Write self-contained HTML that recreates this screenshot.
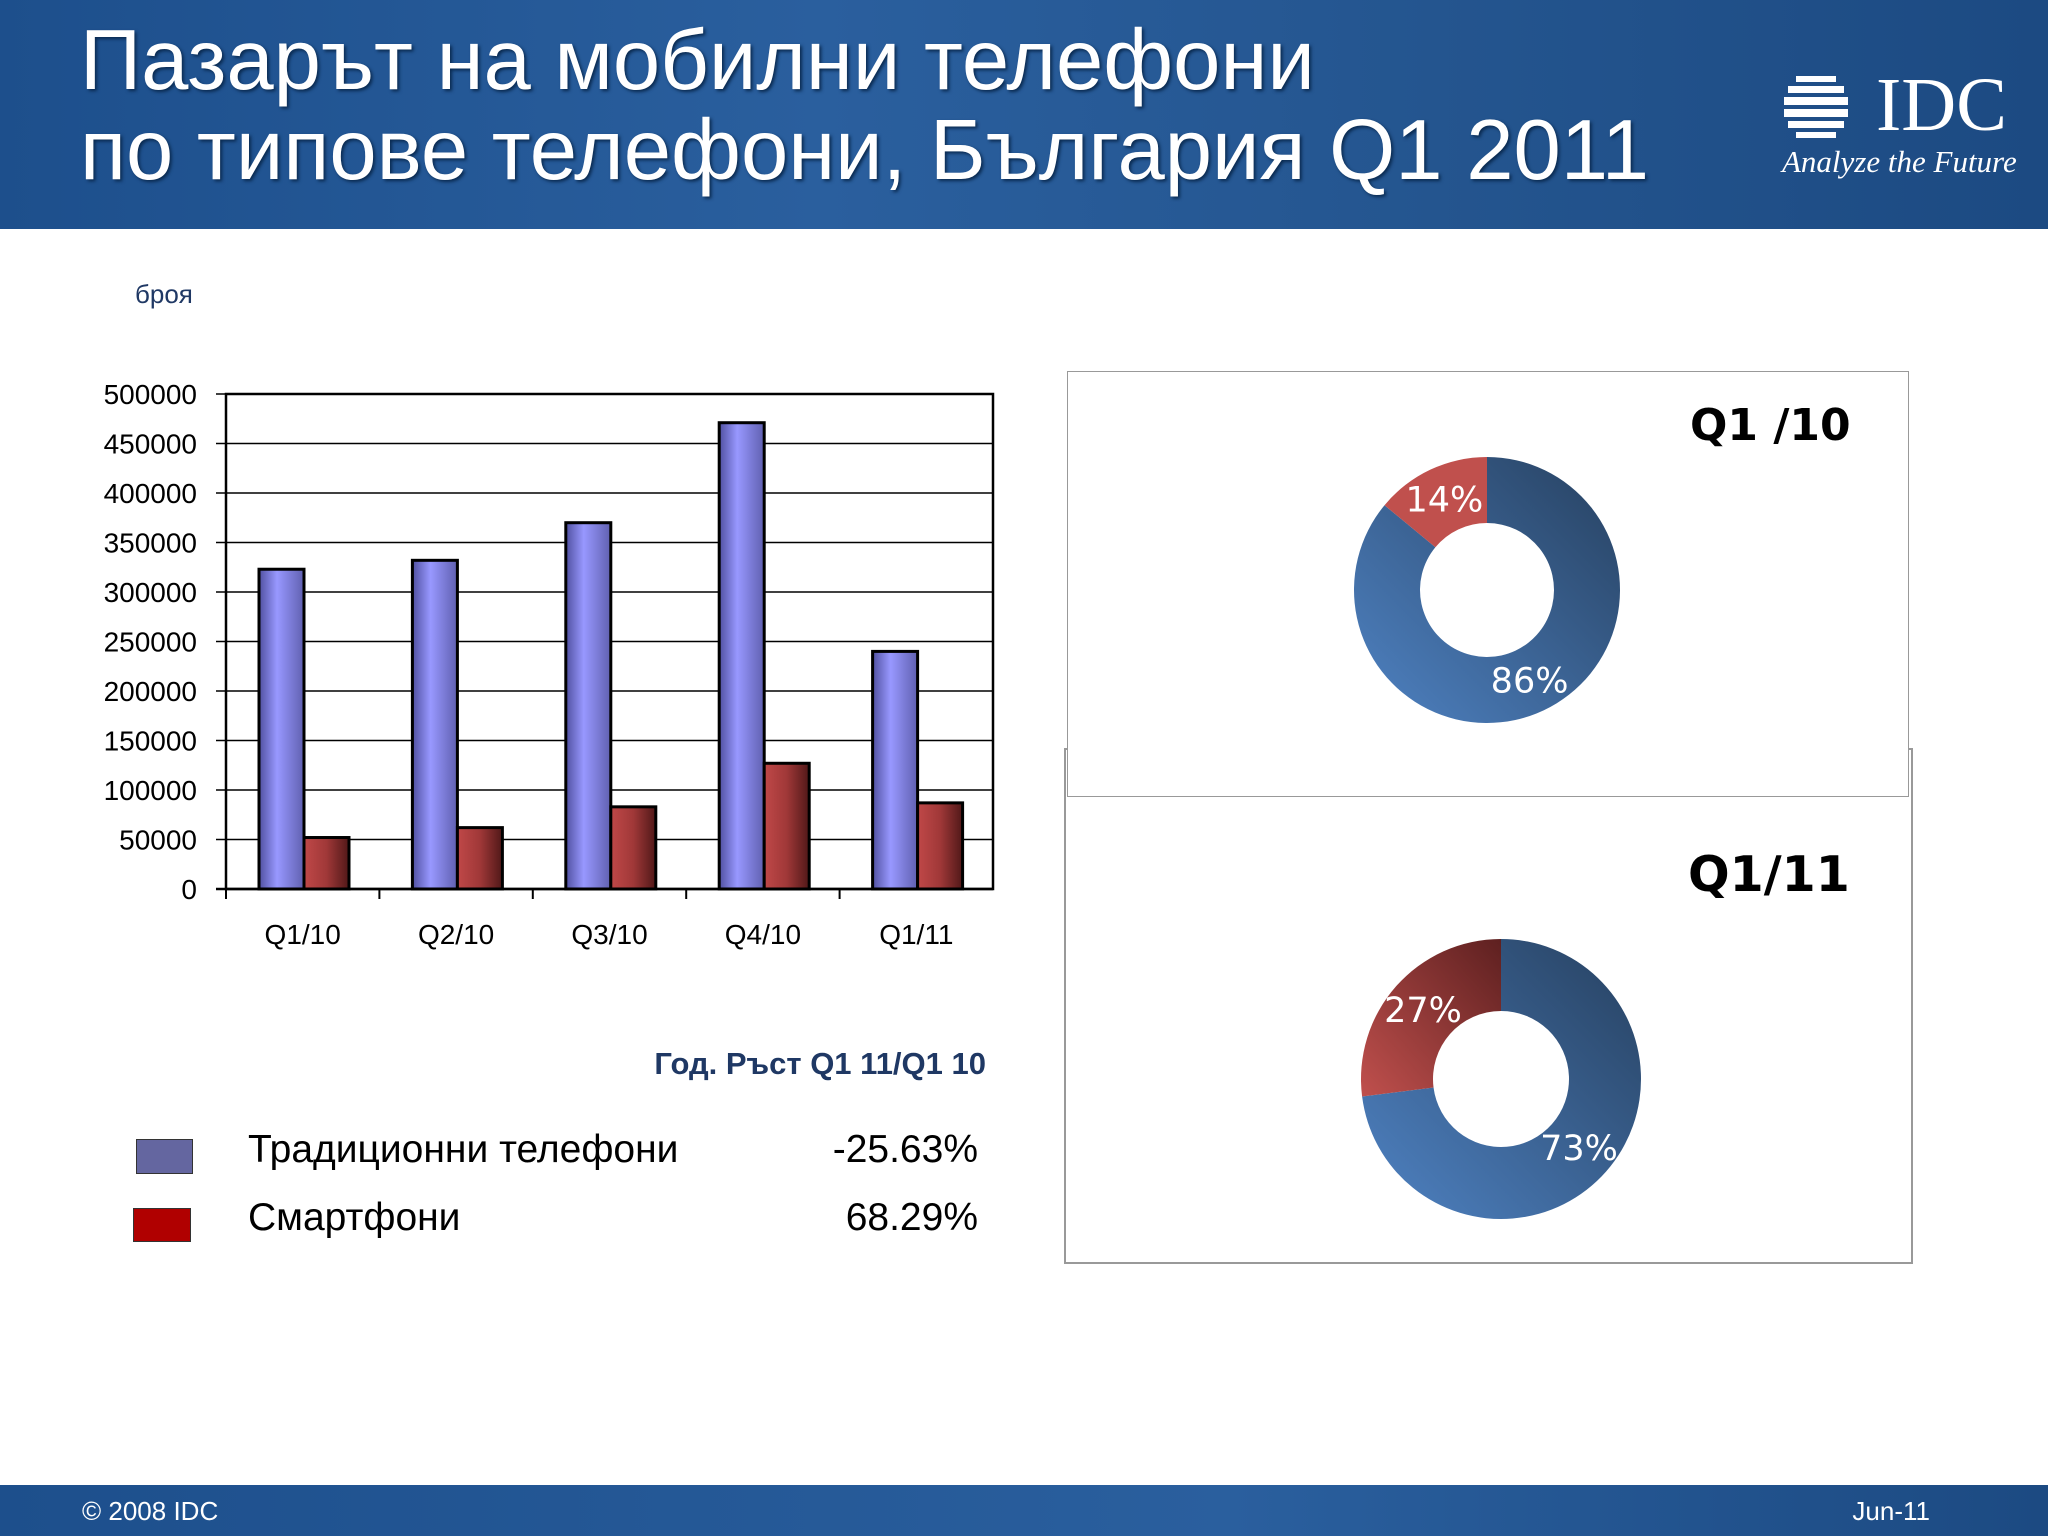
<!DOCTYPE html>
<html><head><meta charset="utf-8"><style>
body{margin:0;width:2048px;height:1536px;background:#fff;position:relative;overflow:hidden;font-family:"Liberation Sans",sans-serif}
.abs{position:absolute}
</style></head><body>
<div class="abs" style="left:0;top:0;width:2048px;height:229px;background:linear-gradient(90deg,#1d4f8c 0%,#2a5f9e 40%,#24558f 70%,#1c4a82 100%)"></div>
<div class="abs" style="left:80px;top:16px;color:#fff;font-size:85px;line-height:90px;text-shadow:2px 2px 3px #0a2a50;white-space:nowrap">Пазарът на мобилни телефони<br>по типове телефони, България Q1 2011</div>
<div class="abs" style="left:1782px;top:66px;width:230px;color:#fff">
 <svg width="90" height="70" style="position:absolute;left:0;top:8px"><g fill="#fff"><rect x="14" y="2" width="40" height="6"/><rect x="6" y="12" width="56" height="7"/><rect x="2" y="23" width="64" height="8"/><rect x="2" y="35" width="64" height="8"/><rect x="6" y="47" width="56" height="7"/><rect x="14" y="58" width="40" height="6"/></g></svg>
 <div style="position:absolute;left:94px;top:0;font-family:'Liberation Serif',serif;font-size:76px;line-height:78px">IDC</div>
 <div style="position:absolute;left:0;top:78px;font-family:'Liberation Serif',serif;font-style:italic;font-size:31px;white-space:nowrap">Analyze the Future</div>
</div>
<div class="abs" style="left:135px;top:279px;font-size:26px;color:#1f3864">броя</div>

<svg class="abs" style="left:0;top:0" width="2048" height="1536" id="chart">
<defs>
<linearGradient id="gb" x1="0" x2="1"><stop offset="0" stop-color="#5050a0"/><stop offset="0.4" stop-color="#9898ff"/><stop offset="1" stop-color="#6060b0"/></linearGradient>
<linearGradient id="gr" x1="0" x2="1"><stop offset="0" stop-color="#c04848"/><stop offset="0.5" stop-color="#a03838"/><stop offset="1" stop-color="#501818"/></linearGradient>
</defs>
<g id="bars"></g>
</svg>

<div class="abs" style="left:500px;top:1046px;width:486px;text-align:right;font-size:31px;font-weight:bold;color:#1f3864">Год. Ръст Q1 11/Q1 10</div>
<div class="abs" style="left:136px;top:1139px;width:55px;height:33px;background:#6466a0;border:1px solid #333"></div>
<div class="abs" style="left:133px;top:1208px;width:56px;height:32px;background:#b00000;border:1px solid #333"></div>
<div class="abs" style="left:248px;top:1128px;font-size:39px">Традиционни телефони</div>
<div class="abs" style="left:248px;top:1196px;font-size:39px">Смартфони</div>
<div class="abs" style="left:700px;top:1128px;width:278px;text-align:right;font-size:39px">-25.63%</div>
<div class="abs" style="left:700px;top:1196px;width:278px;text-align:right;font-size:39px">68.29%</div>

<div class="abs" style="left:1064px;top:748px;width:845px;height:512px;border:2px solid #999;background:#fff"></div>
<div class="abs" style="left:1067px;top:371px;width:840px;height:424px;border:1px solid #999;background:#fff"></div>
<div class="abs" style="left:1690px;top:400px;font-size:44px;font-weight:bold;font-family:'DejaVu Sans',sans-serif">Q1 /10</div>
<div class="abs" style="left:1688px;top:846px;font-size:49px;font-weight:bold;font-family:'DejaVu Sans',sans-serif">Q1/11</div>
<svg class="abs" style="left:0;top:0" width="2048" height="1536" id="donuts">
<defs>
<linearGradient id="dblue" x1="0" y1="1" x2="1" y2="0"><stop offset="0" stop-color="#4f83c4"/><stop offset="1" stop-color="#26405f"/></linearGradient>
<linearGradient id="dred2" x1="0" y1="1" x2="1" y2="0"><stop offset="0" stop-color="#c0504d"/><stop offset="1" stop-color="#5e2020"/></linearGradient>
</defs>
</svg>

<div class="abs" style="left:0;top:1485px;width:2048px;height:51px;background:linear-gradient(90deg,#1d4f8c,#2a5f9e 60%,#1c4a82)"></div>
<div class="abs" style="left:82px;top:1496px;font-size:26px;color:#fff">© 2008 IDC</div>
<div class="abs" style="left:1800px;top:1496px;width:130px;text-align:right;font-size:26px;color:#fff">Jun-11</div>

<script>
const categories=["Q1/10","Q2/10","Q3/10","Q4/10","Q1/11"];
const traditional=[323000,332000,370000,471000,240000];
const smartphones=[52000,62000,83000,127000,87000];
const yTicks=[0,50000,100000,150000,200000,250000,300000,350000,400000,450000,500000];
const donutQ110=[86,14];
const donutQ111=[73,27];

const NS="http://www.w3.org/2000/svg";
const X0=226,X1=993,Y0=889,Y1=394,YMAX=500000;
const y=v=>Y0-(v/YMAX)*(Y0-Y1);
const gw=(X1-X0)/categories.length;
const g=document.getElementById('bars');
function mk(t,a){const e=document.createElementNS(NS,t);for(const k in a)e.setAttribute(k,a[k]);g.appendChild(e);return e;}
yTicks.forEach(v=>{
 const l=mk('line',{x1:X0-10,x2:X1,y1:y(v),y2:y(v),stroke:'#000','stroke-width':v===0?2.5:1.5});
 
 
 const t=mk('text',{x:197,y:y(v)+10,'text-anchor':'end','font-size':28,'font-family':'Liberation Sans, sans-serif'});
 t.textContent=v;
 
 
});
const fr=mk('rect',{x:X0,y:Y1,width:X1-X0,height:Y0-Y1,fill:'none',stroke:'#000','stroke-width':2.5});


categories.forEach((c,i)=>{
 const gx=X0+i*gw;
 const tk=mk('line',{x1:gx,x2:gx,y1:Y0,y2:Y0+10,stroke:'#000','stroke-width':2});
 
 
 const b=mk('rect',{x:gx+33,y:y(traditional[i]),width:45,height:Y0-y(traditional[i]),fill:'url(#gb)',stroke:'#000','stroke-width':3});
 
 
 const r=mk('rect',{x:gx+78,y:y(smartphones[i]),width:45,height:Y0-y(smartphones[i]),fill:'url(#gr)',stroke:'#000','stroke-width':3});
 
 
 const t=mk('text',{x:gx+gw/2,y:944,'text-anchor':'middle','font-size':28,'font-family':'Liberation Sans, sans-serif'});
 t.textContent=c;
 
 
});

const d=document.getElementById('donuts');
function arc(cx,cy,R,r,a0,a1){
 const p=(rad,a)=>[cx+rad*Math.sin(a),cy-rad*Math.cos(a)];
 const lg=(a1-a0)>Math.PI?1:0;
 const [x1,y1]=p(R,a0),[x2,y2]=p(R,a1),[x3,y3]=p(r,a1),[x4,y4]=p(r,a0);
 return `M${x1},${y1}A${R},${R} 0 ${lg} 1 ${x2},${y2}L${x3},${y3}A${r},${r} 0 ${lg} 0 ${x4},${y4}Z`;
}
function donut(vals,cx,cy,R,r,fills,names){
 let a=0;const tot=vals.reduce((s,v)=>s+v,0);
 const labels=[];
 vals.forEach((v,i)=>{
  const a1=a+v/tot*2*Math.PI;
  const p=document.createElementNS(NS,'path');
  p.setAttribute('d',arc(cx,cy,R,r,a,a1));p.setAttribute('fill',fills[i]);
  
  
  d.appendChild(p);
  const m=(a+a1)/2, lr=(R+r)/2;
  labels.push([cx+lr*Math.sin(m),cy-lr*Math.cos(m)+12,v]);
  a=a1;
 });
 labels.forEach(([lx,ly,v])=>{
  const t=document.createElementNS(NS,'text');
  t.setAttribute('x',lx);t.setAttribute('y',ly);
  t.setAttribute('text-anchor','middle');t.setAttribute('fill','#fff');t.setAttribute('font-size','35');
  t.setAttribute('font-family','DejaVu Sans, sans-serif');
  t.textContent=v+'%';
  
  
  d.appendChild(t);
 });
}
donut(donutQ110,1487,590,133,67,['url(#dblue)','#c0504d'],['slice-traditional-q1-10','slice-smartphone-q1-10']);
donut(donutQ111,1501,1079,140,68,['url(#dblue)','url(#dred2)'],['slice-traditional-q1-11','slice-smartphone-q1-11']);
</script>
</body></html>
